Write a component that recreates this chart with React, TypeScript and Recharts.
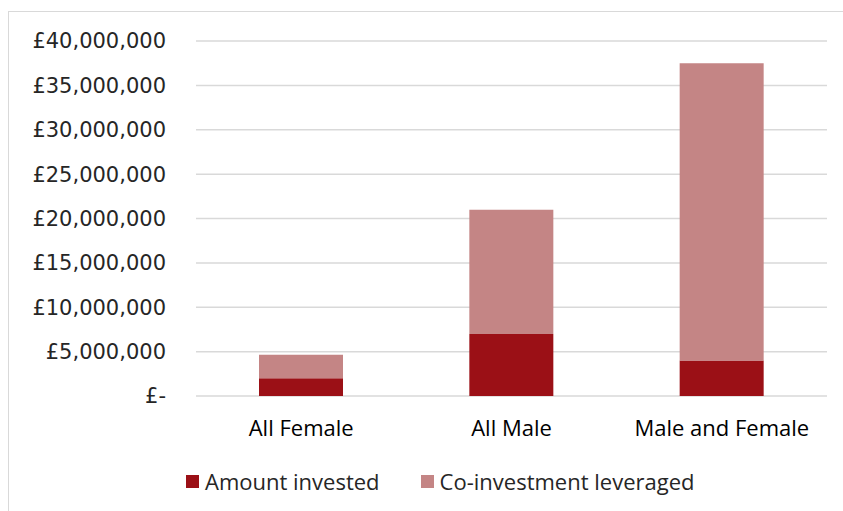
import React from "react";
import { BarChart, Bar, XAxis, YAxis, CartesianGrid, Legend } from "recharts";

const categories = ["All Female", "All Male", "Male and Female"];
const amountInvested = [2000000, 7000000, 4000000];
const coInvestment = [2650000, 14000000, 33500000];
const yTicks = [0, 5000000, 10000000, 15000000, 20000000, 25000000, 30000000, 35000000, 40000000];
const seriesNames = ["Amount invested", "Co-investment leveraged"];
const colors = ["#9B1016", "#C48585"];

const data = categories.map((c, i) => ({
  name: c,
  amount: amountInvested[i],
  co: coInvestment[i],
}));

const fmt = (v: number) => (v === 0 ? "£-" : "£" + v.toLocaleString("en-GB"));

const LegendContent = () => (
  <div style={{ display: "flex", alignItems: "center", fontFamily: "'Open Sans', sans-serif", fontSize: 22, color: "#262626" }}>
    {seriesNames.map((n, i) => (
      <div key={n} style={{ display: "flex", alignItems: "center", marginRight: i === 0 ? 41 : 0 }}>
        <div style={{ width: 13, height: 13, background: colors[i], marginRight: 6 }} />
        <span>{n}</span>
      </div>
    ))}
  </div>
);

export default function App() {
  return (
    <div
      style={{
        position: "fixed",
        left: 8,
        top: 11,
        width: 900,
        height: 600,
        border: "1px solid #d9d9d9",
        background: "#fff",
      }}
    >
      <BarChart
        width={840}
        height={500}
        data={data}
        margin={{ top: 29, right: 22, left: 0, bottom: 41 }}
        barSize={84}
      >
        <CartesianGrid vertical={false} stroke="#d9d9d9" strokeWidth={1.5} />
        <XAxis
          dataKey="name"
          axisLine={false}
          tickLine={false}
          tickSize={0}
          tickMargin={24}
          height={45}
          tick={{ fill: "#000", fontSize: 22, fontFamily: "'Open Sans', sans-serif" }}
        />
        <YAxis
          width={187}
          domain={[0, 40000000]}
          ticks={yTicks}
          tickFormatter={fmt}
          axisLine={false}
          tickLine={false}
          tickSize={0}
          tickMargin={30}
          interval={0}
          tick={{ fill: "#262626", fontSize: 21, fontFamily: "'DejaVu Sans', sans-serif" }}
        />
        <Legend
          content={<LegendContent />}
          wrapperStyle={{ position: "absolute", top: 454, left: 177, width: "auto" }}
        />
        <Bar dataKey="amount" name={seriesNames[0]} stackId="a" fill={colors[0]} isAnimationActive={false} />
        <Bar dataKey="co" name={seriesNames[1]} stackId="a" fill={colors[1]} isAnimationActive={false} />
      </BarChart>
    </div>
  );
}
